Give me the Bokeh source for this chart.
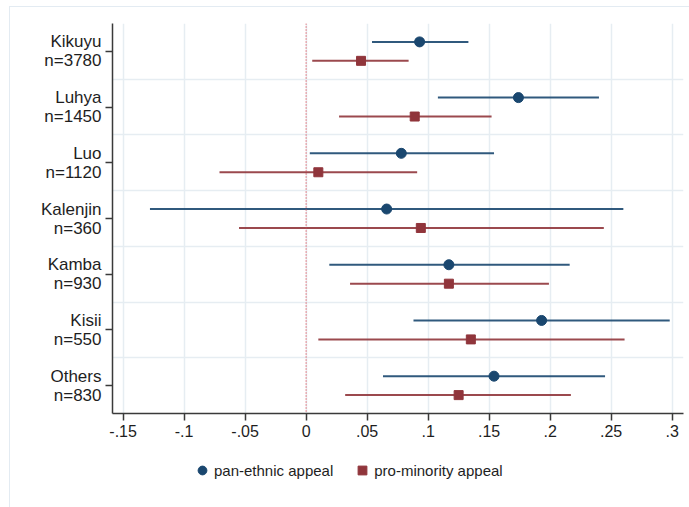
from bokeh.plotting import figure
from bokeh.layouts import column
from bokeh.models import (Range1d, FixedTicker, Span, Legend, LegendItem,
                          ColumnDataSource)
from bokeh.embed import file_html
from bokeh.resources import INLINE

groups = ["Kikuyu", "Luhya", "Luo", "Kalenjin", "Kamba", "Kisii", "Others"]
ns = [3780, 1450, 1120, 360, 930, 550, 830]
pan_est = [0.093, 0.174, 0.078, 0.066, 0.117, 0.193, 0.154]
pan_lo = [0.054, 0.108, 0.003, -0.128, 0.019, 0.088, 0.063]
pan_hi = [0.133, 0.240, 0.154, 0.260, 0.216, 0.298, 0.245]
min_est = [0.045, 0.089, 0.010, 0.094, 0.117, 0.135, 0.125]
min_lo = [0.005, 0.027, -0.071, -0.055, 0.036, 0.010, 0.032]
min_hi = [0.084, 0.152, 0.091, 0.244, 0.199, 0.261, 0.217]
x_ticks = [-0.15, -0.1, -0.05, 0, 0.05, 0.1, 0.15, 0.2, 0.25, 0.3]
x_tick_labels = ["-.15", "-.1", "-.05", "0", ".05", ".1", ".15", ".2", ".25", ".3"]
series_labels = ["pan-ethnic appeal", "pro-minority appeal"]

NAVY = "#1a476f"
MAROON = "#90353b"
FONT = "Liberation Sans"

k = len(groups)
ypos = [k - i for i in range(k)]
off = 0.17

pan = ColumnDataSource(dict(y=[v + off for v in ypos], est=pan_est, lo=pan_lo, hi=pan_hi))
mino = ColumnDataSource(dict(y=[v - off for v in ypos], est=min_est, lo=min_lo, hi=min_hi))

p = figure(width=679, height=443, output_backend="svg", toolbar_location=None,
           x_range=Range1d(-0.1587, 0.3093), y_range=Range1d(0.5, k + 0.5),
           min_border_left=102, min_border_right=6, min_border_top=16,
           min_border_bottom=37)
p.outline_line_color = None
p.background_fill_color = "white"
p.border_fill_color = "white"

# grids
p.xgrid.ticker = FixedTicker(ticks=x_ticks)
p.xgrid.grid_line_color = "#e6edf2"
p.xgrid.grid_line_width = 1.5
p.ygrid.ticker = FixedTicker(ticks=[v + 0.5 for v in range(1, k)])
p.ygrid.grid_line_color = "#e6edf2"
p.ygrid.grid_line_width = 1.5

# axes
p.xaxis.ticker = FixedTicker(ticks=x_ticks)
p.xaxis.major_label_overrides = {t: l for t, l in zip(x_ticks, x_tick_labels)}
p.yaxis.ticker = FixedTicker(ticks=ypos)
p.yaxis.major_label_overrides = {y: f"{g}\nn={n}" for y, g, n in zip(ypos, groups, ns)}
for ax in (p.xaxis, p.yaxis):
    ax.axis_line_color = "#3a3a3a"
    ax.axis_line_width = 1.5
    ax.major_tick_line_color = "#3a3a3a"
    ax.major_tick_line_width = 1.5
    ax.major_tick_in = 0
    ax.major_tick_out = 7
    ax.minor_tick_line_color = None
    ax.major_label_text_font = FONT
    ax.major_label_text_color = "#1e1e1e"
p.xaxis.major_label_text_font_size = "16px"
p.xaxis.major_label_standoff = 4
p.yaxis.major_label_text_font_size = "17px"
p.yaxis.major_label_text_line_height = 1.0
p.yaxis.major_label_standoff = 4

# zero reference line
p.add_layout(Span(location=0, dimension="height", line_color="#e0474f",
                  line_width=1.2, line_dash="1 2"))

# CI lines and point estimates
p.segment(x0="lo", x1="hi", y0="y", y1="y", source=pan, line_color=NAVY,
          line_width=2, line_alpha=0.9)
p.segment(x0="lo", x1="hi", y0="y", y1="y", source=mino, line_color=MAROON,
          line_width=2, line_alpha=0.9)
p.scatter(x="est", y="y", source=pan, marker="circle", size=10,
          fill_color=NAVY, line_color=NAVY)
p.scatter(x="est", y="y", source=mino, marker="square", size=9,
          fill_color=MAROON, line_color=MAROON)

# legend strip below the plot (its frame is aligned with the main frame)
lg = figure(width=679, height=57, output_backend="svg", toolbar_location=None,
            x_range=Range1d(0, 1), y_range=Range1d(0, 1),
            x_axis_type=None, y_axis_type=None,
            min_border_left=0, min_border_right=0, min_border_top=0,
            min_border_bottom=0)
lg.outline_line_color = None
lg.grid.visible = False
lg.border_fill_color = "white"
# legend-key renderers, kept outside the visible range
d1 = lg.scatter(x=[5], y=[5], marker="circle", size=10, fill_color=NAVY, line_color=NAVY)
d2 = lg.scatter(x=[5], y=[5], marker="square", size=9, fill_color=MAROON, line_color=MAROON)
legend = Legend(items=[LegendItem(label=series_labels[0], renderers=[d1]),
                       LegendItem(label=series_labels[1], renderers=[d2])],
                orientation="horizontal", location=(79, 26),
                label_text_font=FONT, label_text_font_size="15px",
                label_text_color="#1e1e1e", glyph_width=22, glyph_height=22,
                label_standoff=1, spacing=18, padding=0, margin=0,
                border_line_color=None, background_fill_alpha=0)
lg.add_layout(legend, "center")

layout = column(p, lg, spacing=0,
                styles={"margin-left": "9px", "margin-top": "6px",
                        "border-left": "1px solid #e3ebf2",
                        "border-top": "1px solid #e3ebf2"})

open("out.html", "w").write(file_html(layout, INLINE))
